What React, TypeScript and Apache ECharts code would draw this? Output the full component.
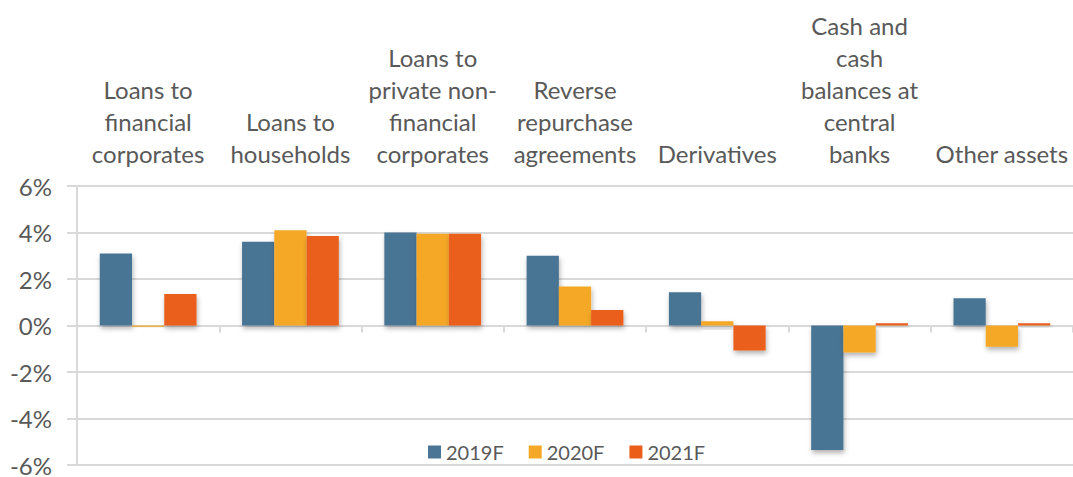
import React, { useEffect, useRef } from "react";
import * as echarts from "echarts";

const categories = [
  "Loans to\nfinancial\ncorporates",
  "Loans to\nhouseholds",
  "Loans to\nprivate non-\nfinancial\ncorporates",
  "Reverse\nrepurchase\nagreements",
  "Derivatives",
  "Cash and\ncash\nbalances at\ncentral\nbanks",
  "Other assets",
];
const seriesNames = ["2019F", "2020F", "2021F"];
const values2019 = [3.1, 3.6, 4.0, 3.0, 1.43, -5.35, 1.17];
const values2020 = [-0.05, 4.1, 3.95, 1.68, 0.18, -1.16, -0.91];
const values2021 = [1.35, 3.85, 3.95, 0.67, -1.08, 0.1, 0.1];
const yTicks = { min: -6, max: 6, interval: 2 };
const colors = ["#4A7594", "#F5A827", "#EA5E1A"];

export default function App() {
  const ref = useRef<HTMLDivElement>(null);
  useEffect(() => {
    if (!ref.current) return;
    const chart = echarts.init(ref.current, undefined, { renderer: "svg" });
    const font = "Lato";
    const txt = "#595959";
    const grid = "#D9D9D9";
    const data = [values2019, values2020, values2021];
    chart.setOption({
      animation: false,
      textStyle: { fontFamily: font },
      grid: { left: 77, right: -3, top: 186, bottom: 5, containLabel: false },
      legend: {
        data: seriesNames,
        left: 423,
        top: 437,
        icon: "rect",
        itemWidth: 13,
        itemHeight: 13,
        itemGap: 25,
        textStyle: { color: txt, fontSize: 20, fontFamily: font },
      },
      xAxis: [
        {
          type: "category",
          data: categories,
          position: "bottom",
          axisLine: { onZero: true, lineStyle: { color: grid, width: 2 } },
          axisTick: { show: true, length: 7, lineStyle: { color: grid, width: 2 } },
          axisLabel: { show: false },
          splitLine: { show: false },
        },
        {
          type: "category",
          data: categories,
          position: "top",
          axisLine: { show: false, onZero: false },
          axisTick: { show: false },
          axisLabel: {
            show: true,
            interval: 0,
            color: txt,
            fontSize: 24,
            lineHeight: 32,
            fontFamily: font,
            margin: 17,
            align: "center",
          },
        },
      ],
      yAxis: {
        type: "value",
        min: yTicks.min,
        max: yTicks.max,
        interval: yTicks.interval,
        axisLine: { show: true, lineStyle: { color: grid, width: 2 } },
        axisTick: { show: true, length: 10, lineStyle: { color: grid, width: 2 } },
        splitLine: { show: true, lineStyle: { color: grid, width: 2 } },
        axisLabel: {
          formatter: "{value}%",
          color: txt,
          fontSize: 24,
          fontFamily: font,
          margin: 25,
        },
      },
      series: seriesNames.map((name, i) => ({
        name,
        type: "bar",
        xAxisIndex: 0,
        data: data[i],
        barGap: "0%",
        barCategoryGap: "32%",
        itemStyle: {
          color: colors[i],
          shadowColor: "rgba(0,0,0,0.3)",
          shadowBlur: 5,
          shadowOffsetX: 1,
          shadowOffsetY: 3,
        },
      })),
    });
    return () => chart.dispose();
  }, []);
  return <div ref={ref} style={{ width: 1073, height: 477, position: "absolute", left: 0, top: 0 }} />;
}
